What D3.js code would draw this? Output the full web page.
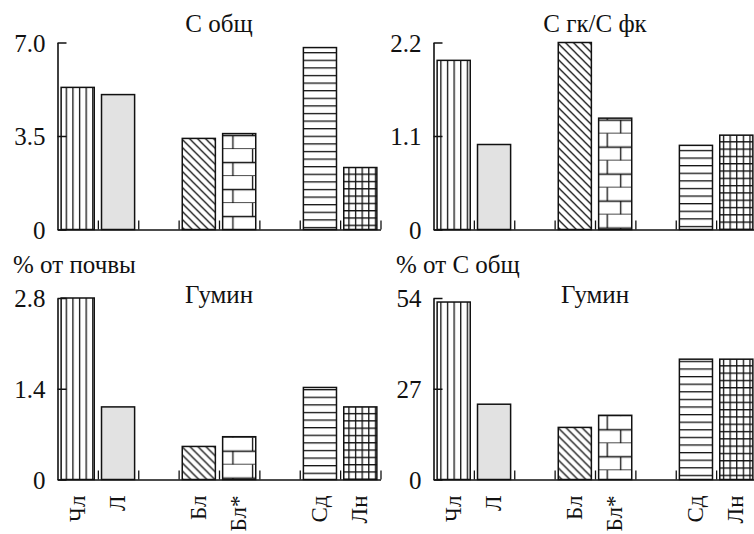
<!DOCTYPE html>
<html>
<head>
<meta charset="utf-8">
<script src="https://cdn.jsdelivr.net/npm/d3@7"></script>
<style>
    body { margin: 0; background: #fff; }
    svg { display: block; }
    svg text { fill: #111; }
</style>
</head>
<body>
<div id="chart"></div>
<script>
'use strict';
// categories, with empty slots between the groups
var categories = ["Чл", "Л", "Бл", "Бл*", "Сд", "Лн"];
var slotOrder = ["Чл", "Л", "gap1", "Бл", "Бл*", "gap2", "Сд", "Лн"];

// values
var cTotal    = [5.32, 5.05, 3.41, 3.59, 6.81, 2.32];
var cRatio    = [1.99, 1.00, 2.20, 1.31, 0.99, 1.11];
var huminSoil = [2.80, 1.12, 0.51, 0.66, 1.42, 1.12];
var huminC    = [52.8, 22.4, 15.5, 19.1, 35.8, 35.8];

// y ticks and their labels
var cTotalTicks = [0, 3.5, 7.0],     cTotalLabels = ["0", "3.5", "7.0"];
var cRatioTicks = [0, 1.1, 2.2],     cRatioLabels = ["0", "1.1", "2.2"];
var soilTicks   = [0, 1.4, 2.8],     soilLabels   = ["0", "1.4", "2.8"];
var huminCTicks = [0, 27, 54],       huminCLabels = ["0", "27", "54"];

// fill style of each category
var fills = ["vert", "gray", "diag", "brick", "hstripe", "grid"];

var W = 754, H = 534;
var plotW = 323;
var FONT = "'Liberation Serif', Tinos, 'DejaVu Serif', 'Times New Roman', serif";

var panels = [
    {id: "tl", left: 57.5,  top: 42.5, bottom: 229.5, values: cTotal,    ticks: cTotalTicks, labels: cTotalLabels,
     title: "С общ", titleY: 32, unit: null, xLabels: false},
    {id: "tr", left: 433.5, top: 42.5, bottom: 229.5, values: cRatio,    ticks: cRatioTicks, labels: cRatioLabels,
     title: "С гк/С фк", titleY: 32, unit: null, xLabels: false},
    {id: "bl", left: 57.5,  top: 298,  bottom: 479.5, values: huminSoil, ticks: soilTicks,   labels: soilLabels,
     title: "Гумин", titleY: 303, unit: {text: "% от почвы", x: 13}, xLabels: true},
    {id: "br", left: 433.5, top: 298,  bottom: 479.5, values: huminC,    ticks: huminCTicks, labels: huminCLabels,
     title: "Гумин", titleY: 303, unit: {text: "% от С общ", x: 396}, xLabels: true}
];

var svg = d3.select("#chart").append("svg")
    .attr("width", W)
    .attr("height", H)
    .attr("font-family", FONT);
svg.append("rect").attr("width", W).attr("height", H).attr("fill", "#fff");

var defs = svg.append("defs");

// one pattern per bar so the hatching starts at the bar's corner
function makePattern(id, kind, bx, by, bw) {
    var p, sw = 1.3, col = "#111";
    if (kind == "vert") {
        p = defs.append("pattern").attr("id", id).attr("patternUnits", "userSpaceOnUse")
            .attr("x", bx).attr("y", by).attr("width", bw / 5).attr("height", 10);
        p.append("rect").attr("width", bw / 5).attr("height", 10).attr("fill", "#fff");
        p.append("line").attr("x1", 0).attr("x2", 0).attr("y1", 0).attr("y2", 10)
            .attr("stroke", col).attr("stroke-width", sw * 2);
    } else if (kind == "diag") {
        p = defs.append("pattern").attr("id", id).attr("patternUnits", "userSpaceOnUse")
            .attr("x", bx).attr("y", by).attr("width", 8).attr("height", 8);
        p.append("rect").attr("width", 8).attr("height", 8).attr("fill", "#fff");
        p.append("path").attr("d", "M-2,-2L10,10M-2,6L2,10M6,-2L10,2")
            .attr("stroke", col).attr("stroke-width", sw);
    } else if (kind == "brick") {
        var rh = 13.5;
        p = defs.append("pattern").attr("id", id).attr("patternUnits", "userSpaceOnUse")
            .attr("x", bx).attr("y", by).attr("width", bw).attr("height", rh * 2);
        p.append("rect").attr("width", bw).attr("height", rh * 2).attr("fill", "#fff");
        p.append("path")
            .attr("d", "M0," + rh + "H" + bw + "M0," + (rh * 2) + "H" + bw +
                "M5.5,0V" + rh + "M19,"+ rh + "V" + (rh * 2))
            .attr("stroke", col).attr("stroke-width", sw);
    } else if (kind == "hstripe") {
        p = defs.append("pattern").attr("id", id).attr("patternUnits", "userSpaceOnUse")
            .attr("x", bx).attr("y", by).attr("width", 10).attr("height", 7.6);
        p.append("rect").attr("width", 10).attr("height", 7.6).attr("fill", "#fff");
        p.append("line").attr("x1", 0).attr("x2", 10).attr("y1", 0).attr("y2", 0)
            .attr("stroke", col).attr("stroke-width", sw * 2);
    } else if (kind == "grid") {
        p = defs.append("pattern").attr("id", id).attr("patternUnits", "userSpaceOnUse")
            .attr("x", bx).attr("y", by).attr("width", bw / 5).attr("height", 7.3);
        p.append("rect").attr("width", bw / 5).attr("height", 7.3).attr("fill", "#fff");
        p.append("path").attr("d", "M0,0V7.3M0,0H" + (bw / 5))
            .attr("stroke", col).attr("stroke-width", sw * 2);
    }
    return "url(#" + id + ")";
}

panels.forEach(function(pn) {
    var h = pn.bottom - pn.top;
    var g = svg.append("g").attr("transform", "translate(" + pn.left + "," + pn.top + ")");

    var x = d3.scaleBand().domain(slotOrder).range([0, plotW]);
    var xEdge = d3.scaleLinear().domain([0, slotOrder.length]).range([0, plotW]);
    var y = d3.scaleLinear().domain([0, d3.max(pn.ticks)]).range([h, 0]);
    var bw = x.bandwidth() * 0.82;

    // bars
    g.selectAll("rect.bar")
        .data(pn.values)
        .join("rect")
        .attr("class", "bar")
        .attr("x", function(d, i) { return x(categories[i]) + (x.bandwidth() - bw) / 2; })
        .attr("y", function(d) { return y(d); })
        .attr("width", bw)
        .attr("height", function(d) { return h - y(d); })
        .attr("fill", function(d, i) {
            if (fills[i] == "gray") return "#e2e2e2";
            var bx = pn.left + x(categories[i]) + (x.bandwidth() - bw) / 2;
            return makePattern("p-" + pn.id + "-" + i, fills[i], bx, pn.top + y(d), bw);
        })
        .attr("stroke", "#111")
        .attr("stroke-width", 1.5);

    // x axis: baseline with small ticks at slot edges
    var xa = g.append("g")
        .attr("transform", "translate(0," + h + ")")
        .call(d3.axisBottom(xEdge)
            .tickValues(d3.range(1, slotOrder.length + 1))
            .tickSize(-9).tickSizeOuter(0).tickFormat(""));
    xa.select(".domain").attr("stroke", "#111").attr("stroke-width", 1.6);
    xa.selectAll(".tick line").attr("stroke", "#111").attr("stroke-width", 1.3);

    // y axis
    var ya = g.append("g")
        .call(d3.axisLeft(y)
            .tickValues(pn.ticks)
            .tickFormat(function(d, i) { return pn.labels[i]; })
            .tickSize(-9).tickSizeOuter(0).tickPadding(12));
    ya.attr("font-family", FONT);
    ya.select(".domain").attr("stroke", "#111").attr("stroke-width", 1.6);
    ya.selectAll(".tick line").attr("stroke", "#111").attr("stroke-width", 1.5);
    ya.selectAll(".tick text")
        .attr("font-size", 25).attr("fill", "#111").attr("dy", "0.35em");

    // category labels, turned upright
    if (pn.xLabels) {
        g.selectAll("text.cat")
            .data(categories)
            .join("text")
            .attr("class", "cat")
            .attr("transform", function(d) {
                return "translate(" + (x(d) + x.bandwidth() / 2) + "," + (h + 16) + ") rotate(-90)";
            })
            .attr("text-anchor", "end")
            .attr("dy", "0.3em")
            .attr("font-size", 23)
            .text(function(d) { return d; });
    }

    // panel title
    svg.append("text")
        .attr("x", pn.left + plotW / 2)
        .attr("y", pn.titleY)
        .attr("text-anchor", "middle")
        .attr("font-size", 25)
        .text(pn.title);

    if (pn.unit) {
        svg.append("text")
            .attr("x", pn.unit.x)
            .attr("y", 273)
            .attr("font-size", 25)
            .text(pn.unit.text);
    }
});
</script>
</body>
</html>
